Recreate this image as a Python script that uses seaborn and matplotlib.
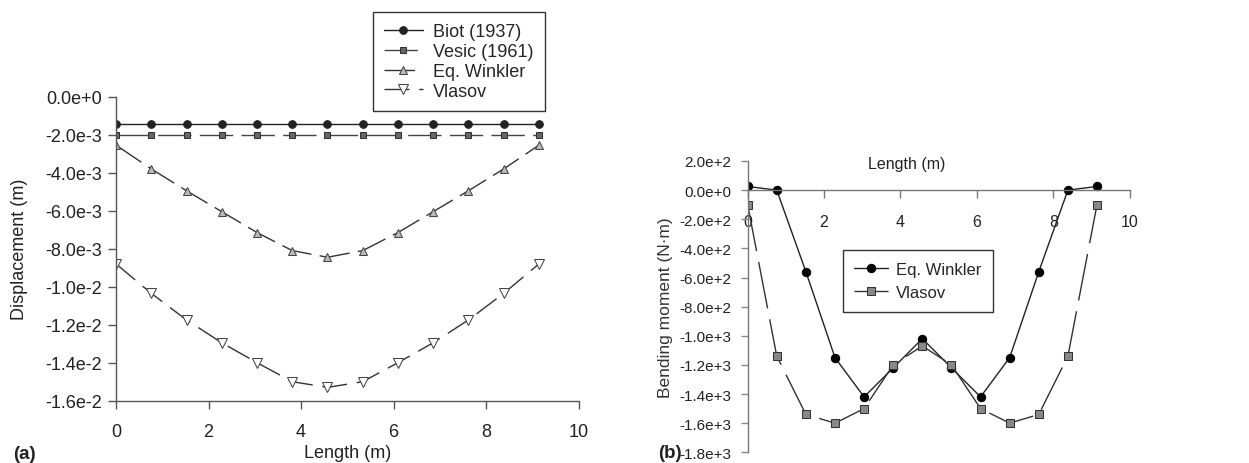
import numpy as np
import matplotlib
matplotlib.use("Agg")
import matplotlib.pyplot as plt
from matplotlib.ticker import FuncFormatter, MultipleLocator
import seaborn as sns

# Positions along the beam (m)
length_m = [0.0, 0.762, 1.524, 2.286, 3.048, 3.810, 4.572,
            5.334, 6.096, 6.858, 7.620, 8.382, 9.144]

# (a) Displacement (m)
disp_biot = [-1.43e-3, -1.43e-3, -1.43e-3, -1.43e-3, -1.43e-3, -1.43e-3, -1.43e-3,
             -1.43e-3, -1.43e-3, -1.43e-3, -1.43e-3, -1.43e-3, -1.43e-3]
disp_vesic = [-2.0e-3, -2.0e-3, -2.0e-3, -2.0e-3, -2.0e-3, -2.0e-3, -2.0e-3,
              -2.0e-3, -2.0e-3, -2.0e-3, -2.0e-3, -2.0e-3, -2.0e-3]
disp_winkler = [-2.55e-3, -3.8e-3, -4.95e-3, -6.05e-3, -7.15e-3, -8.1e-3, -8.45e-3,
                -8.1e-3, -7.15e-3, -6.05e-3, -4.95e-3, -3.8e-3, -2.55e-3]
disp_vlasov = [-8.8e-3, -1.035e-2, -1.175e-2, -1.295e-2, -1.40e-2, -1.50e-2, -1.53e-2,
               -1.50e-2, -1.40e-2, -1.295e-2, -1.175e-2, -1.035e-2, -8.8e-3]

# (b) Bending moment (N·m)
moment_winkler = [25, 0, -560, -1150, -1420, -1220, -1020,
                  -1220, -1420, -1150, -560, 0, 25]
moment_vlasov = [-100, -1140, -1540, -1600, -1500, -1200, -1070,
                 -1200, -1500, -1600, -1540, -1140, -100]

labels_a = ["Biot (1937)", "Vesic (1961)", "Eq. Winkler", "Vlasov"]
labels_b = ["Eq. Winkler", "Vlasov"]

sns.set_theme(style="ticks")
plt.rcParams["font.family"] = ["Liberation Sans", "DejaVu Sans"]
plt.rcParams["lines.scale_dashes"] = False
FS_A = 13
FS_B = 10.5
INK = "#222222"
SPINE = "#555555"


def sci_fmt(v, pos):
    if abs(v) < 1e-12:
        return "0.0e+0"
    exp = int(np.floor(np.log10(abs(v))))
    m = v / 10.0 ** exp
    if round(abs(m), 1) >= 10:
        m /= 10.0
        exp += 1
    sign = "+" if exp >= 0 else "-"
    return f"{m:.1f}e{sign}{abs(exp)}"


fig = plt.figure(figsize=(12.49, 4.64), dpi=100)
ax_a = fig.add_axes([0.0929, 0.1343, 0.3703, 0.6551])
ax_b = fig.add_axes([0.5986, 0.0231, 0.3059, 0.6278])

# ---------- (a) displacement ----------
lw = 1.0
sns.lineplot(x=length_m, y=disp_biot, ax=ax_a, estimator=None, color=INK, lw=lw,
             marker="o", markersize=5.5, markerfacecolor=INK, markeredgecolor=INK,
             label=labels_a[0], legend=False)
sns.lineplot(x=length_m, y=disp_vesic, ax=ax_a, estimator=None, color="#444444", lw=lw,
             linestyle=(0, (24, 6)), marker="s", markersize=5,
             markerfacecolor="#666666", markeredgecolor="#333333",
             label=labels_a[1], legend=False)
sns.lineplot(x=length_m, y=disp_winkler, ax=ax_a, estimator=None, color="#333333", lw=lw,
             linestyle=(0, (22, 6)), marker="^", markersize=6,
             markerfacecolor="#bbbbbb", markeredgecolor="#444444",
             label=labels_a[2], legend=False)
sns.lineplot(x=length_m, y=disp_vlasov, ax=ax_a, estimator=None, color="#333333", lw=lw,
             linestyle=(0, (18, 7)), marker="v", markersize=6.5,
             markerfacecolor="white", markeredgecolor="#444444",
             label=labels_a[3], legend=False)

ax_a.set_xlim(0, 10)
ax_a.set_ylim(-0.016, 0.0)
ax_a.xaxis.set_major_locator(MultipleLocator(2))
ax_a.yaxis.set_major_locator(MultipleLocator(0.002))
ax_a.yaxis.set_major_formatter(FuncFormatter(sci_fmt))
for s in ("top", "right"):
    ax_a.spines[s].set_visible(False)
for s in ("left", "bottom"):
    ax_a.spines[s].set_color(SPINE)
    ax_a.spines[s].set_linewidth(1.0)
ax_a.tick_params(axis="x", direction="out", length=6, width=1, color=SPINE,
                 pad=10, labelsize=FS_A, labelcolor=INK)
ax_a.tick_params(axis="y", direction="out", length=6, width=1, color=SPINE,
                 pad=4, labelsize=FS_A, labelcolor=INK)
ax_a.set_xlabel("Length (m)", fontsize=FS_A, color=INK)
ax_a.set_ylabel("Displacement (m)", fontsize=FS_A, color=INK)
ax_a.xaxis.set_label_coords(0.5, -0.143)
ax_a.yaxis.set_label_coords(-0.19, 0.5)

h, l = ax_a.get_legend_handles_labels()
leg_a = ax_a.legend(h, l, loc="upper left", bbox_to_anchor=(0.2984, 0.9713),
                    bbox_transform=fig.transFigure, frameon=True, fancybox=False,
                    edgecolor="#333333", framealpha=1, fontsize=FS_A,
                    handlelength=2.2, handletextpad=0.55, labelspacing=0.16,
                    borderpad=0.6, borderaxespad=0)
leg_a.get_frame().set_linewidth(1.0)

# ---------- (b) bending moment ----------
sns.lineplot(x=length_m, y=moment_winkler, ax=ax_b, estimator=None, color=INK, lw=lw,
             marker="o", markersize=6, markerfacecolor="black", markeredgecolor="black",
             label=labels_b[0], legend=False)
sns.lineplot(x=length_m, y=moment_vlasov, ax=ax_b, estimator=None, color="#333333", lw=lw,
             linestyle=(0, (34, 8)), marker="s", markersize=5.5,
             markerfacecolor="#888888", markeredgecolor="#333333",
             label=labels_b[1], legend=False)

ax_b.set_xlim(0, 10)
ax_b.set_ylim(-1800, 200)
ax_b.xaxis.set_major_locator(MultipleLocator(2))
ax_b.yaxis.set_major_locator(MultipleLocator(200))
ax_b.yaxis.set_major_formatter(FuncFormatter(sci_fmt))
ax_b.spines["top"].set_visible(False)
ax_b.spines["right"].set_visible(False)
ax_b.spines["bottom"].set_position(("data", 0))
for s in ("left", "bottom"):
    ax_b.spines[s].set_color("#777777")
    ax_b.spines[s].set_linewidth(1.0)
ax_b.tick_params(axis="x", direction="out", length=6, width=1, color="#777777",
                 pad=11, labelsize=FS_B + 1, labelcolor=INK)
ax_b.tick_params(axis="y", direction="out", length=5, width=1, color="#888888",
                 pad=7, labelsize=FS_B + 0.5, labelcolor=INK)
ax_b.set_xlabel("Length (m)", fontsize=FS_B + 1, color=INK)
ax_b.xaxis.set_label_coords(0.417, 1.018)
ax_b.xaxis.label.set_va("top")
ax_b.set_ylabel("Bending moment (N·m)", fontsize=12.5, color="#333333")
ax_b.yaxis.set_label_coords(-0.196, 0.5)

h, l = ax_b.get_legend_handles_labels()
leg_b = ax_b.legend(h, l, loc="upper left", bbox_to_anchor=(0.6747, 0.4591),
                    bbox_transform=fig.transFigure, frameon=True, fancybox=False,
                    edgecolor="#333333", framealpha=1, fontsize=FS_B + 1.5,
                    handlelength=2.0, handletextpad=0.5, labelspacing=0.5,
                    borderpad=0.7, borderaxespad=0)
leg_b.get_frame().set_linewidth(1.0)

# Panel tags
fig.text(0.0102, 0.0105, "(a)", fontsize=FS_A + 0.5, fontweight="bold", color=INK)
fig.text(0.527, 0.014, "(b)", fontsize=FS_A + 0.5, fontweight="bold", color=INK)

fig.savefig("out.png", dpi=100)
